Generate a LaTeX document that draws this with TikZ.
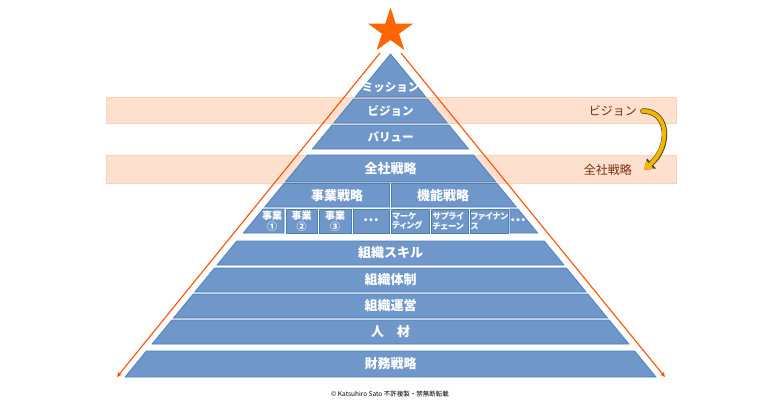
\documentclass[tikz,border=0pt]{standalone}
\usepackage{fontspec}
\setmainfont{Noto Sans CJK JP}
\newfontfamily\propfont{Noto Sans CJK JP}[RawFeature=+palt]
\usetikzlibrary{arrows.meta}
\definecolor{layerfill}{HTML}{6F97C9}
\definecolor{layeredge}{HTML}{4A7EBB}
\definecolor{bandfill}{HTML}{FDE1CE}
\definecolor{bandedge}{HTML}{F9D3B9}
\definecolor{starorange}{HTML}{FF6600}
\definecolor{lineorange}{HTML}{FF5000}
\definecolor{labelbrown}{HTML}{7A2E0C}
\definecolor{goldfill}{HTML}{F2B705}
\definecolor{goldedge}{HTML}{5C4A1A}
% pyramid layer between ytop and ybot: apex (390.5,54), slope 0.822
\newcommand\pyrlayer[2]{%
  \draw[layer] ({390.5-0.822*(#1-54)},#1) -- ({390.5+0.822*(#1-54)},#1)
    -- ({390.5+0.822*(#2-54)},#2) -- ({390.5-0.822*(#2-54)},#2) -- cycle;}
\begin{document}
\begin{tikzpicture}[x=1pt,y=-1pt,
  layer/.style={fill=layerfill,draw=layeredge,line width=0.7pt},
  band/.style={fill=bandfill,draw=bandedge,line width=0.6pt},
  ltext/.style={text=white,font=\bfseries\fontsize{13}{13}\selectfont,inner sep=0pt},
  ttext/.style={text=white,font=\bfseries\fontsize{11.5}{11.5}\selectfont,inner sep=0pt},
  stext/.style={text=white,font=\bfseries\fontsize{10}{10.5}\selectfont,inner sep=0pt,align=center},
  ktext/.style={text=white,font=\propfont\bfseries\fontsize{8.5}{9.5}\selectfont,inner sep=0pt,align=left,anchor=west},
  dtext/.style={text=white,font=\bfseries\fontsize{14}{14}\selectfont,inner sep=0pt},
  rlabel/.style={text=labelbrown,font=\fontsize{12}{12}\selectfont,inner sep=0pt,anchor=east},
  oline/.style={draw=lineorange,line width=1.1pt,-{Stealth[length=5pt,width=4.5pt]}}]
\useasboundingbox (0,0) rectangle (780,402);
\fill[white] (0,0) rectangle (780,402);
% bands
\draw[band] (106,97) rectangle (676,123);
\draw[band] (106,155) rectangle (676,183);
% star
\fill[starorange,shift={(390.5,31)}]
  (90:23.5pt) -- (126:9pt) -- (162:23.5pt) -- (198:9pt)
  -- (234:23.5pt) -- (270:9pt) -- (306:23.5pt) -- (342:9pt)
  -- (18:23.5pt) -- (54:9pt) -- cycle;
% pyramid
\draw[layer] (390.5,54) -- ({390.5+0.822*43},97) -- ({390.5-0.822*43},97) -- cycle;
\pyrlayer{99}{123}
\pyrlayer{125}{149}
\pyrlayer{155}{182}
% split row
\draw[layer] ({390.5-0.822*129.5},183.5) -- (389.5,183.5) -- (389.5,207) -- ({390.5-0.822*153},207) -- cycle;
\draw[layer] (391.5,183.5) -- ({390.5+0.822*129.5},183.5) -- ({390.5+0.822*153},207) -- (391.5,207) -- cycle;
% small boxes
\draw[layer] ({390.5-0.822*155},209) -- (284,209) -- (284,233) -- ({390.5-0.822*179},233) -- cycle;
\draw[layer] (286,209) rectangle (317,233);
\draw[layer] (319,209) rectangle (351,233);
\draw[layer] (353,209) rectangle (389.5,233);
\draw[layer] (391.5,209) rectangle (429,233);
\draw[layer] (431,209) rectangle (468,233);
\draw[layer] (470,209) rectangle (508,233);
\draw[layer] (510,209) -- ({390.5+0.822*155},209) -- ({390.5+0.822*179},233) -- (510,233) -- cycle;
% lower layers
\pyrlayer{241}{265}
\pyrlayer{268}{292}
\pyrlayer{294}{318}
\pyrlayer{320}{344}
\pyrlayer{351}{377}
% texts
\node[ttext] (mission) at (390.5,87) {ミッション};
\node[ttext] (vision) at (390.5,111) {ビジョン};
\node[ttext] (value) at (390.5,137) {バリュー};
\node[ltext] (zensha) at (390.5,169) {全社戦略};
\node[ltext] (jigyo) at (337,195.5) {事業戦略};
\node[ltext] (kino) at (443,195.5) {機能戦略};
\node[stext] (j1) at (272,221) {事業\\①};
\node[stext] (j2) at (301.5,221) {事業\\②};
\node[stext] (j3) at (335,221) {事業\\③};
\node[dtext] (d1) at (371,220) {…};
\node[ktext] (k1) at (392,221) {マーケ\\ティング};
\node[ktext] (k2) at (432.5,221) {サプライ\\チェーン};
\node[ktext] (k3) at (470.5,221) {ファイナン\\ス};
\node[dtext] (d2) at (518,220) {…};
\node[ltext] (skill) at (390.5,253) {組織スキル};
\node[ltext] (taisei) at (390.5,280) {組織体制};
\node[ltext] (unei) at (390.5,306) {組織運営};
\node[ltext] (jinzai) at (390.5,332) {人　材};
\node[ltext] (zaimu) at (390.5,364) {財務戦略};
% right labels
\node[rlabel] (rvision) at (637,111) {ビジョン};
\node[rlabel] (rzensha) at (632,170) {全社戦略};
% gold curved arrow
\coordinate (ga) at ([xshift=6pt]rvision.east);
\coordinate (gb) at ([xshift=12pt]rzensha.east);
\draw[goldedge,line width=5.6pt,line cap=round,-{Triangle[length=10pt,width=13pt]}]
  (ga) .. controls +(26,0) and +(27,-24) .. (gb);
\draw[goldfill,line width=4pt,line cap=round,-{Triangle[length=8pt,width=10.5pt]}]
  (ga) .. controls +(26,0) and +(27,-24) .. (gb);
% orange lines
\coordinate (olt) at (380,53);
\coordinate (olb) at (117,377);
\coordinate (ort) at (401,53);
\coordinate (orb) at (665,377);
\draw[oline] (olt) -- (olb);
\draw[oline] (ort) -- (orb);
% copyright
\node[inner sep=0pt,font=\fontsize{6.5}{6.5}\selectfont] (copy) at (390,394) {© Katsuhiro Sato 不許複製・禁無断転載};
\end{tikzpicture}
\end{document}
